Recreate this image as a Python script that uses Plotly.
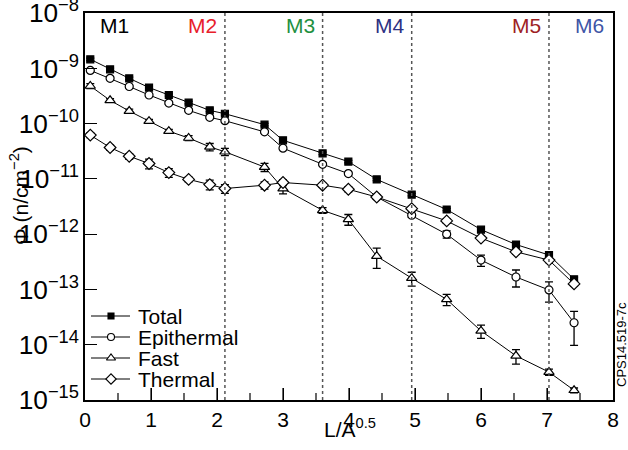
import math
import plotly.graph_objects as go

# ---- data ----
x_pos = [0.08, 0.38, 0.67, 0.97, 1.27, 1.57, 1.89, 2.12, 2.72, 3.0,
         3.6, 3.99, 4.42, 4.95, 5.48, 6.0, 6.53, 7.03, 7.41]

total = [1.46e-9, 9.6e-10, 6.6e-10, 4.5e-10, 3.3e-10, 2.4e-10, 1.74e-10, 1.51e-10,
         9.6e-11, 5.0e-11, 2.9e-11, 2.06e-11, 9.8e-12, 5.2e-12, 2.8e-12, 1.21e-12,
         6.5e-13, 4.2e-13, 1.53e-13]
epithermal = [9.2e-10, 6.6e-10, 4.7e-10, 3.3e-10, 2.36e-10, 1.74e-10, 1.3e-10, 1.13e-10,
              7.1e-11, 3.6e-11, 1.84e-11, 1.25e-11, 4.7e-12, 2.2e-12, 1.0e-12, 3.4e-13,
              1.68e-13, 9.8e-14, 2.5e-14]
fast = [4.8e-10, 2.64e-10, 1.69e-10, 1.11e-10, 7.3e-11, 5.5e-11, 3.8e-11, 3.1e-11,
        1.64e-11, 6.7e-12, 2.7e-12, 1.86e-12, 4.0e-13, 1.6e-13, 6.6e-14, 1.78e-14,
        6.3e-15, 3.2e-15, 1.5e-15]
thermal = [6.2e-11, 3.7e-11, 2.57e-11, 1.9e-11, 1.3e-11, 9.8e-12, 7.9e-12, 6.7e-12,
           7.7e-12, 8.6e-12, 7.7e-12, 6.5e-12, 4.7e-12, 2.9e-12, 1.74e-12, 8.5e-13,
           4.8e-13, 3.4e-13, 1.26e-13]

# relative (fractional) errors
total_relerr = [0.05] * 18 + [0.08]
epithermal_relerr = [0.05] * 12 + [0.07, 0.08, 0.15, 0.23, 0.34, 0.40, 0.61]
fast_relerr = [0.10, 0.07, 0.08, 0.08, 0.08, 0.10, 0.15, 0.15, 0.17, 0.20,
               0.12, 0.22, 0.40, 0.28, 0.23, 0.27, 0.29, 0.13, 0.10]
thermal_relerr = [0.10, 0.10, 0.12, 0.20, 0.18, 0.10, 0.20, 0.18, 0.15, 0.12,
                  0.08, 0.10, 0.08, 0.10, 0.10, 0.08, 0.10, 0.10, 0.10]

series_names = ["Total", "Epithermal", "Fast", "Thermal"]
boundaries = [2.12, 3.6, 4.95, 7.03]
region_labels = ["M1", "M2", "M3", "M4", "M5", "M6"]
region_colors = ["#000000", "#e8202a", "#1e9040", "#2e3182", "#9e1f23", "#3f56a6"]
x_ticks = [0, 1, 2, 3, 4, 5, 6, 7, 8]
x_minor_ticks = [0.5, 1.5, 2.5, 3.5, 4.5, 5.5, 6.5, 7.5]
y_decades = [-15, -14, -13, -12, -11, -10, -9, -8]

FONT = "Liberation Sans, Arial, Helvetica, sans-serif"

# layout geometry (pixels)
W, H = 628, 450
ML, MR, MT, MB = 85, 15, 13, 50
PL, PR, PT, PB = ML, W - MR, MT, H - MB
PW, PH = PR - PL, PB - PT


def px_x(p):
    """pixel x -> paper x"""
    return (p - PL) / PW


def px_y(p):
    """pixel y -> paper y"""
    return (PB - p) / PH


legend_rows_y = [316, 337, 358, 379]
legend_line_x = [91, 130]
legend_mark_x = 111
legend_text_x = 136

styles = [
    ("square", "black", 7),
    ("circle", "white", 8),
    ("triangle-up", "white", 9),
    ("diamond", "white", 9),
]
values = [total, epithermal, fast, thermal]
relerrs = [total_relerr, epithermal_relerr, fast_relerr, thermal_relerr]

fig = go.Figure()

# axis tick marks (inside, bottom and left only, as in the original)
tick_line = dict(color="black", width=1.2)
for t in x_ticks[1:-1]:
    fig.add_shape(type="line", xref="x", yref="paper", x0=t, x1=t,
                  y0=0, y1=12 / PH, line=tick_line, layer="above")
for t in x_minor_ticks:
    fig.add_shape(type="line", xref="x", yref="paper", x0=t, x1=t,
                  y0=0, y1=7 / PH, line=tick_line, layer="above")
for d in y_decades[1:-1]:
    fig.add_shape(type="line", xref="paper", yref="y", x0=0, x1=12 / PW,
                  y0=d, y1=d, line=tick_line, layer="above")
for d in y_decades[:-1]:
    for m in range(2, 10):
        lv = d + math.log10(m)
        fig.add_shape(type="line", xref="paper", yref="y", x0=0, x1=6 / PW,
                      y0=lv, y1=lv, line=dict(color="black", width=1), layer="above")

for name, vals, rel, (sym, fill, size) in zip(series_names, values, relerrs, styles):
    err = [v * r for v, r in zip(vals, rel)]
    fig.add_trace(go.Scatter(
        x=x_pos, y=vals, name=name, mode="lines+markers", showlegend=False,
        line=dict(color="black", width=1),
        marker=dict(symbol=sym, size=size, color=fill,
                    line=dict(color="black", width=1.2)),
        error_y=dict(type="data", array=err, visible=True,
                     color="black", thickness=1.3, width=4),
    ))

# hand-drawn legend on a pixel-space overlay axis
for name, ry, (sym, fill, size) in zip(series_names, legend_rows_y, styles):
    fig.add_trace(go.Scatter(
        x=legend_line_x, y=[ry, ry], mode="lines", xaxis="x2", yaxis="y2",
        line=dict(color="black", width=1), showlegend=False, hoverinfo="skip"))
    fig.add_trace(go.Scatter(
        x=[legend_mark_x], y=[ry], mode="markers", xaxis="x2", yaxis="y2",
        marker=dict(symbol=sym, size=size - 1, color=fill,
                    line=dict(color="black", width=1.1)),
        showlegend=False, hoverinfo="skip"))
    fig.add_annotation(x=px_x(legend_text_x), y=px_y(ry), xref="paper", yref="paper",
                       text=name, showarrow=False, xanchor="left", yanchor="middle",
                       font=dict(family=FONT, size=21, color="black"))

for b in boundaries:
    fig.add_vline(x=b, line=dict(color="#555555", width=1.5, dash="dot"))

# region labels
for i, (lab, col) in enumerate(zip(region_labels, region_colors)):
    if i == 0:
        xa, anchor = 0.2, "left"
    elif i < len(region_labels) - 1:
        xa, anchor = boundaries[i - 1] - 0.09, "right"
    else:
        xa, anchor = 7.89, "right"
    fig.add_annotation(x=xa, xref="x", y=px_y(25), yref="paper", text=lab,
                       showarrow=False, xanchor=anchor, yanchor="middle",
                       font=dict(family=FONT, size=21, color=col))

# axis titles and side tag
fig.add_annotation(x=px_x(350), y=px_y(428), xref="paper", yref="paper",
                   text="L/A<sup>0.5</sup>", showarrow=False,
                   xanchor="center", yanchor="middle",
                   font=dict(family=FONT, size=21, color="black"))
fig.add_annotation(x=px_x(19), y=px_y(196), xref="paper", yref="paper",
                   text="Φ (n/cm<sup>−2</sup>)", showarrow=False, textangle=-90,
                   xanchor="center", yanchor="middle",
                   font=dict(family=FONT, size=21, color="black"))
fig.add_annotation(x=px_x(621), y=px_y(345), xref="paper", yref="paper",
                   text="CPS14.519-7c", showarrow=False, textangle=-90,
                   xanchor="center", yanchor="middle",
                   font=dict(family=FONT, size=13, color="black"))

fig.update_layout(
    width=W, height=H,
    margin=dict(l=ML, r=MR, t=MT, b=MB, autoexpand=False),
    paper_bgcolor="white", plot_bgcolor="white",
    font=dict(family=FONT, size=21, color="black"),
    showlegend=False,
    xaxis=dict(range=[0, 8], tickvals=x_ticks, ticks="inside", ticklen=12,
               tickwidth=1.2, tickcolor="black", showgrid=False, zeroline=False,
               showline=True, linecolor="black", linewidth=1.5, mirror=True,
               automargin=False, ticklabeloverflow="allow",
               tickfont=dict(family=FONT, size=21)),
    yaxis=dict(type="log", range=[-15.0, -7.998], dtick=1, exponentformat="power",
               ticks="inside", ticklen=12, tickwidth=1.2, tickcolor="black",
               showgrid=False, zeroline=False, showline=True, linecolor="black",
               linewidth=1.5, mirror=True, automargin=False,
               ticklabeloverflow="allow",
               tickfont=dict(family=FONT, size=21)),
    xaxis2=dict(overlaying="x", range=[PL, PR], visible=False, fixedrange=True),
    yaxis2=dict(overlaying="y", range=[PB, PT], visible=False, fixedrange=True),
)

fig.write_html("out.html", config={"displayModeBar": False},
               post_script="document.body.style.margin='0';"
                           "document.body.style.padding='0';")
